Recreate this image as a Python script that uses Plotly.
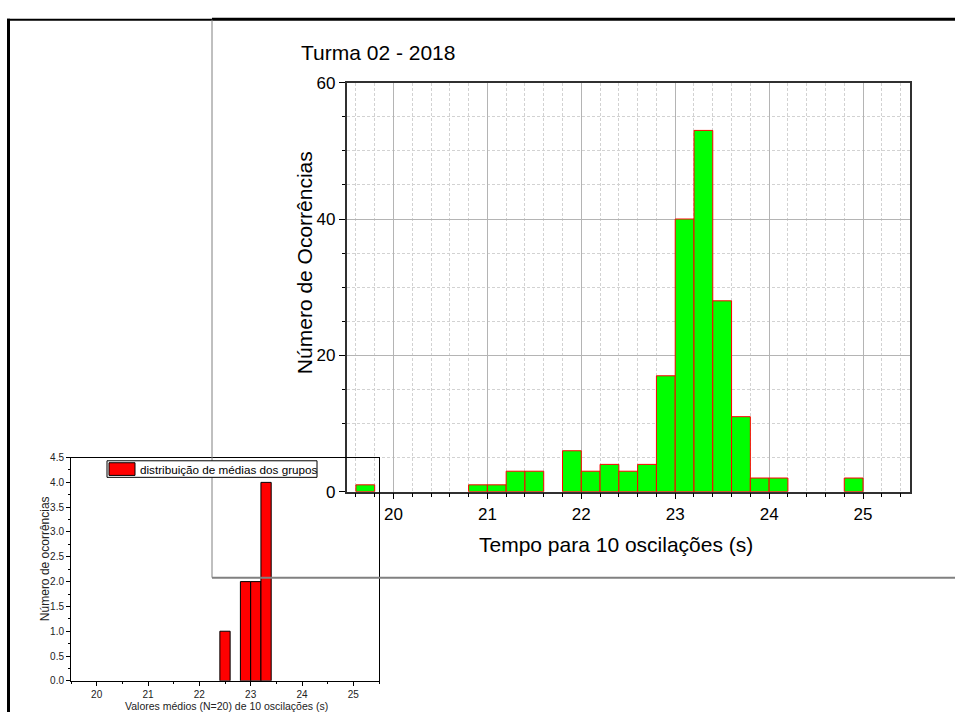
import plotly.graph_objects as go

# ---------------- data ----------------
main_bin_left = [19.6, 20.8, 21.0, 21.2, 21.4, 21.8, 22.0, 22.2, 22.4, 22.6,
                 22.8, 23.0, 23.2, 23.4, 23.6, 23.8, 24.0, 24.8]
main_counts = [1, 1, 1, 3, 3, 6, 3, 4, 3, 4, 17, 40, 53, 28, 11, 2, 2, 2]
bin_width = 0.2

inset_bin_left = [22.4, 22.8, 23.0, 23.2]
inset_counts = [1, 2, 2, 4]

main_title = "Turma 02 - 2018"
main_xtitle = "Tempo para 10 oscilações (s)"
main_ytitle = "Número de Ocorrências"
inset_xtitle = "Valores médios (N=20) de 10 oscilações (s)"
inset_ytitle = "Número de ocorrências"
inset_legend = "distribuição de médias dos grupos"

# ---------------- layout helpers ----------------
W, H = 955, 722
FONT = "Liberation Sans, Arial, sans-serif"


def px(x):
    return x / W


def py(y):
    return 1 - y / H


fig = go.Figure()

fig.add_trace(go.Bar(
    x=main_bin_left, y=main_counts, width=bin_width, offset=0,
    marker=dict(color="#00FF00", line=dict(color="#FF0000", width=1)),
    xaxis="x", yaxis="y", showlegend=False, name="Turma 02 - 2018",
))

fig.add_trace(go.Bar(
    x=inset_bin_left, y=inset_counts, width=bin_width, offset=0,
    marker=dict(color="#FF0000", line=dict(color="#000000", width=1)),
    xaxis="x2", yaxis="y2", showlegend=False, name=inset_legend,
))

shapes = [
    # outer frame
    dict(type="line", xref="paper", yref="paper", x0=px(8.5), x1=px(8.5), y0=py(10), y1=py(722),
         line=dict(color="black", width=3)),
    dict(type="line", xref="paper", yref="paper", x0=px(7), x1=px(212), y0=py(11), y1=py(11),
         line=dict(color="black", width=2)),
    dict(type="line", xref="paper", yref="paper", x0=px(212), x1=px(955), y0=py(10.5), y1=py(10.5),
         line=dict(color="black", width=3)),
    # main layer frame
    dict(type="line", xref="paper", yref="paper", x0=px(212), x1=px(212), y0=py(11), y1=py(584),
         line=dict(color="#808080", width=1)),
    dict(type="line", xref="paper", yref="paper", x0=px(212), x1=px(955), y0=py(584), y1=py(584),
         line=dict(color="#808080", width=2)),
    # inset legend box & swatch
    dict(type="rect", xref="paper", yref="paper", x0=px(107), x1=px(317), y0=py(481), y1=py(464),
         line=dict(color="black", width=1), fillcolor="white"),
    dict(type="rect", xref="paper", yref="paper", x0=px(109), x1=px(135), y0=py(479), y1=py(466),
         line=dict(color="black", width=1), fillcolor="#FF0000"),
]

annotations = [
    dict(text=main_title, x=px(299), y=py(45), xref="paper", yref="paper",
         xanchor="left", yanchor="middle", showarrow=False,
         font=dict(family=FONT, size=21, color="black")),
    dict(text=main_xtitle, x=px(616), y=py(550), xref="paper", yref="paper",
         xanchor="center", yanchor="middle", showarrow=False,
         font=dict(family=FONT, size=21, color="black")),
    dict(text=main_ytitle, x=px(304), y=py(261), xref="paper", yref="paper",
         xanchor="center", yanchor="middle", showarrow=False, textangle=-90,
         font=dict(family=FONT, size=21, color="black")),
    dict(text=inset_xtitle, x=px(226), y=py(716), xref="paper", yref="paper",
         xanchor="center", yanchor="middle", showarrow=False,
         font=dict(family=FONT, size=10.5, color="#222")),
    dict(text=inset_ytitle, x=px(45), y=py(565), xref="paper", yref="paper",
         xanchor="center", yanchor="middle", showarrow=False, textangle=-90,
         font=dict(family=FONT, size=12, color="#222")),
    dict(text=inset_legend, x=px(138), y=py(472.5), xref="paper", yref="paper",
         xanchor="left", yanchor="middle", showarrow=False,
         font=dict(family=FONT, size=11.7, color="black")),
]

fig.update_layout(
    width=W, height=H,
    margin=dict(l=0, r=0, t=0, b=0, pad=0),
    paper_bgcolor="white",
    plot_bgcolor="rgba(0,0,0,0)",
    font=dict(family=FONT, color="black"),
    shapes=shapes,
    annotations=annotations,
    xaxis=dict(
        domain=[px(346.5), px(910)], anchor="y",
        range=[19.5, 25.5], tick0=20, dtick=1,
        ticks="outside", ticklen=6, tickcolor="black",
        tickfont=dict(family=FONT, size=17, color="black"),
        showline=True, linecolor="#303030", linewidth=1.5, mirror=True,
        showgrid=True, gridcolor="#b4b4b4", gridwidth=1,
        zeroline=False,
        minor=dict(dtick=0.2, tick0=20, ticks="outside", ticklen=4, tickcolor="black",
                   showgrid=True, gridcolor="#d2d2d2", griddash="3px,2px", gridwidth=1),
    ),
    yaxis=dict(
        domain=[py(495.7), py(75.7)], anchor="x",
        range=[0, 60], tick0=0, dtick=20,
        ticks="outside", ticklen=6, tickcolor="black",
        tickfont=dict(family=FONT, size=17, color="black"),
        showline=True, linecolor="#303030", linewidth=1.5, mirror=True,
        showgrid=True, gridcolor="#b4b4b4", gridwidth=1,
        zeroline=False,
        minor=dict(dtick=5, tick0=0, ticks="outside", ticklen=3, tickcolor="black",
                   showgrid=True, gridcolor="#d2d2d2", griddash="3px,2px", gridwidth=1),
    ),
    xaxis2=dict(
        domain=[px(71), px(379)], anchor="y2",
        range=[19.5, 25.5], tick0=20, dtick=1,
        ticks="outside", ticklen=4, tickcolor="black",
        tickfont=dict(family=FONT, size=10, color="#222"),
        showline=True, linecolor="black", linewidth=1, mirror=True,
        showgrid=False, zeroline=False,
        minor=dict(dtick=0.5, tick0=20, ticks="outside", ticklen=2, tickcolor="black"),
    ),
    yaxis2=dict(
        domain=[py(690), py(460.7)], anchor="x2",
        range=[0, 4.5], tick0=0, dtick=0.5, tickformat=".1f",
        ticks="outside", ticklen=4, tickcolor="black",
        tickfont=dict(family=FONT, size=10, color="#222"),
        showline=True, linecolor="black", linewidth=1, mirror=True,
        showgrid=False, zeroline=False,
        minor=dict(dtick=0.25, tick0=0, ticks="outside", ticklen=2, tickcolor="black"),
    ),
)

fig.write_html("out.html")
